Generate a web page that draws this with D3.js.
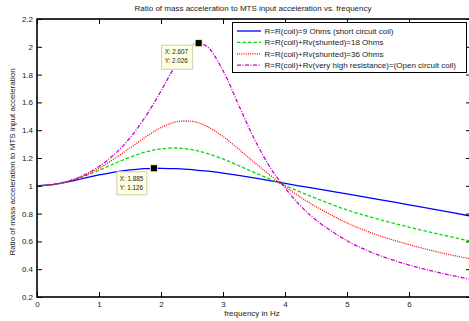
<!DOCTYPE html>
<html><head><meta charset="utf-8">
<script src="https://cdn.jsdelivr.net/npm/d3@7"></script>
<style>
body{margin:0;background:#fff;}
text{font-family:"Liberation Sans",Arial,Helvetica,sans-serif;}
</style>
</head><body>
<svg id="c" width="469" height="321"></svg>
<script>
// ---- data ----
const freq =      [0, 0.25, 0.5, 0.75, 1.0, 1.25, 1.5, 1.75, 1.885, 2.0, 2.25, 2.5, 2.607, 2.75, 3.0, 3.25, 3.5, 3.75, 4.0, 4.25, 4.5, 5.0, 5.5, 6.0, 6.5, 7.0];
const shortCoil = [1.000, 1.008, 1.028, 1.054, 1.078, 1.099, 1.114, 1.123, 1.126, 1.126, 1.123, 1.116, 1.111, 1.105, 1.091, 1.075, 1.057, 1.038, 1.017, 0.998, 0.980, 0.942, 0.903, 0.863, 0.823, 0.782];
const shunt18 =   [1.000, 1.008, 1.031, 1.067, 1.111, 1.160, 1.206, 1.243, 1.258, 1.266, 1.272, 1.260, 1.249, 1.232, 1.193, 1.146, 1.096, 1.050, 1.002, 0.955, 0.910, 0.826, 0.760, 0.703, 0.650, 0.602];
const shunt36 =   [1.000, 1.008, 1.032, 1.072, 1.126, 1.195, 1.272, 1.351, 1.390, 1.419, 1.461, 1.464, 1.453, 1.426, 1.355, 1.265, 1.170, 1.080, 0.995, 0.918, 0.850, 0.733, 0.645, 0.577, 0.520, 0.473];
const openCoil =  [1.000, 1.008, 1.033, 1.075, 1.139, 1.227, 1.345, 1.498, 1.594, 1.682, 1.875, 2.010, 2.026, 2.000, 1.829, 1.583, 1.342, 1.140, 0.985, 0.856, 0.754, 0.605, 0.503, 0.430, 0.374, 0.326];
const seriesNames = [
  "R=R(coil)=9 Ohms (short circuit coil)",
  "R=R(coil)+Rv(shunted)=18 Ohms",
  "R=R(coil)+Rv(shunted)=36 Ohms",
  "R=R(coil)+Rv(very high resistance)=(Open circuit coil)"
];
const xTicks = [0, 1, 2, 3, 4, 5, 6, 7];
const xTickLabels = ["0", "1", "2", "3", "4", "5", "6", "7"];
const yTicks = [0.2, 0.4, 0.6, 0.8, 1.0, 1.2, 1.4, 1.6, 1.8, 2.0, 2.2];
const yTickLabels = ["0.2", "0.4", "0.6", "0.8", "1", "1.2", "1.4", "1.6", "1.8", "2", "2.2"];
const dataTips = [
  {x: 1.885, y: 1.126, label: ["X: 1.885", "Y: 1.126"]},
  {x: 2.607, y: 2.026, label: ["X: 2.607", "Y: 2.026"]}
];
const titleText = "Ratio of mass acceleration to MTS input acceleration vs. frequency";
const xLabelText = "frequency in Hz";
const yLabelText = "Ratio of mass acceleration to MTS input acceleration";

// ---- styles ----
const styles = [
  {color: "#0000ff", dash: null},
  {color: "#00e000", dash: "3.5,2"},
  {color: "#ff0000", dash: "1,1.2"},
  {color: "#cc00cc", dash: "4,1.5,1,1.5"}
];
const allSeries = [shortCoil, shunt18, shunt36, openCoil];

const svg = d3.select("#c");
const L = 37, T = 19, R = 471, B = 297;
const x = d3.scaleLinear().domain([0, 7]).range([L, R]);
const y = d3.scaleLinear().domain([0.2, 2.2]).range([B, T]);

svg.append("rect").attr("width", 469).attr("height", 321).attr("fill", "#fff");

svg.append("defs").append("clipPath").attr("id", "clip")
  .append("rect").attr("x", L).attr("y", T).attr("width", R - L).attr("height", B - T);

// lines
const line = d3.line().x(d => x(d[0])).y(d => y(d[1])).curve(d3.curveCatmullRom.alpha(0.5));
const g = svg.append("g").attr("clip-path", "url(#clip)");
allSeries.forEach((s, i) => {
  g.append("path")
    .attr("d", line(freq.map((f, j) => [f, s[j]])))
    .attr("fill", "none")
    .attr("stroke", styles[i].color)
    .attr("stroke-width", 1.3)
    .attr("stroke-dasharray", styles[i].dash);
});

// axes
const tickColor = "#222";
const ax = svg.append("g").attr("transform", `translate(0,${B})`)
  .call(d3.axisBottom(x).tickValues(xTicks).tickFormat((d, i) => xTickLabels[i]).tickSizeInner(-5).tickSizeOuter(0).tickPadding(4));
const axT = svg.append("g").attr("transform", `translate(0,${T})`)
  .call(d3.axisTop(x).tickValues(xTicks).tickFormat("").tickSizeInner(-5).tickSizeOuter(0));
const ay = svg.append("g").attr("transform", `translate(${L},0)`)
  .call(d3.axisLeft(y).tickValues(yTicks).tickFormat((d, i) => yTickLabels[i]).tickSizeInner(-5).tickSizeOuter(0).tickPadding(4));
const ayR = svg.append("g").attr("transform", `translate(${R},0)`)
  .call(d3.axisRight(y).tickValues(yTicks).tickFormat("").tickSizeInner(-5).tickSizeOuter(0));
[ax, axT, ay, ayR].forEach(a => {
  a.select(".domain").remove();
  a.selectAll(".tick line").attr("stroke", "#000").attr("stroke-width", 1);
  a.selectAll(".tick text").attr("fill", tickColor).style("font-size", "8px")
    .style("font-family", '"Liberation Sans",Arial,sans-serif');
});
svg.append("rect").attr("x", L).attr("y", T).attr("width", R - L).attr("height", B - T)
  .attr("fill", "none").attr("stroke", "#000").attr("stroke-width", 1.6);

// title & labels
svg.append("text").attr("x", 253).attr("y", 11).attr("text-anchor", "middle")
  .style("font-size", "8px").attr("fill", "#222").text(titleText);
svg.append("text").attr("x", 252).attr("y", 316).attr("text-anchor", "middle")
  .style("font-size", "8px").attr("fill", "#222").text(xLabelText);
svg.append("text").attr("transform", `translate(15,162) rotate(-90)`).attr("text-anchor", "middle")
  .style("font-size", "8px").attr("fill", "#222").text(yLabelText);

// legend
const lg = svg.append("g");
lg.append("rect").attr("x", 232.5).attr("y", 22.5).attr("width", 234).attr("height", 50)
  .attr("fill", "#fff").attr("stroke", "#000").attr("stroke-width", 1);
seriesNames.forEach((n, i) => {
  const yy = 31 + i * 11.4;
  lg.append("line").attr("x1", 237).attr("x2", 261).attr("y1", yy).attr("y2", yy)
    .attr("stroke", styles[i].color).attr("stroke-width", 1.3).attr("stroke-dasharray", styles[i].dash);
  lg.append("text").attr("x", 264.5).attr("y", yy + 3).style("font-size", "8px").attr("fill", "#222").text(n);
});

// data tips
const boxes = [{dx: -37, dy: 3.5, w: 30, h: 23}, {dx: -37, dy: 2, w: 31, h: 24}];
dataTips.forEach((d, i) => {
  const px = x(d.x), py = y(d.y);
  const b = boxes[i];
  const bx = px + b.dx, by = py + b.dy;
  svg.append("rect").attr("x", bx).attr("y", by).attr("width", b.w).attr("height", b.h)
    .attr("fill", "#ffffe1").attr("stroke", "#cfcfb0").attr("stroke-width", 1);
  d.label.forEach((t, k) => {
    svg.append("text").attr("x", bx + 3).attr("y", by + 9 + k * 9).style("font-size", "6.3px")
      .attr("fill", "#222").text(t);
  });
  svg.append("rect").attr("x", px - 3.5).attr("y", py - 3.5).attr("width", 7).attr("height", 7)
    .attr("fill", "#000").attr("stroke", "#ffffc0").attr("stroke-width", 0.8);
});
</script>
</body></html>
